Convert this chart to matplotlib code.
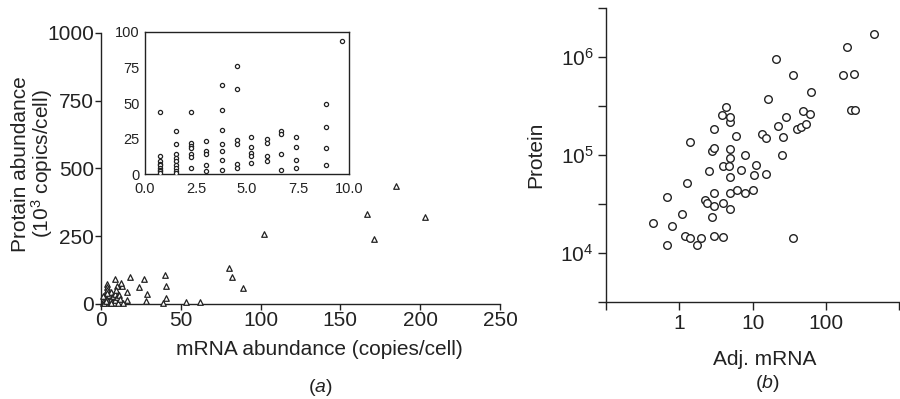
import numpy as np
import matplotlib
matplotlib.use("Agg")
import matplotlib.pyplot as plt
from matplotlib.ticker import FixedLocator, NullFormatter

plt.rcParams['font.family'] = ['Liberation Sans', 'DejaVu Sans']
plt.rcParams['mathtext.fontset'] = 'custom'
plt.rcParams['mathtext.rm'] = 'Liberation Sans'
plt.rcParams['mathtext.it'] = 'Liberation Sans:italic'
plt.rcParams['mathtext.default'] = 'regular'

INK = '#222222'

# (a) main panel: mRNA vs protein (triangles)
mrna_a = [185, 167, 203, 171, 102, 80, 82, 89, 40, 41, 41, 39, 53, 62,
          27, 29, 28, 24, 18, 16, 16, 13, 12.5, 13.6, 9, 10, 4, 3.5,
          1.5, 2, 2.5, 3, 3.5, 4, 4.5, 5, 5.5, 6, 6.5, 7, 7.5, 8, 8.5,
          9, 9.5, 10, 10.5, 11, 2, 3, 4, 6, 1, 12]
prot_a = [437, 332, 320, 239, 257, 134, 99, 58, 107, 65, 21, 3, 9, 9,
          94, 36, 10, 63, 98, 43, 15, 66, 76, 2, 94, 66, 74, 61,
          5, 15, 28, 40, 50, 22, 10, 35, 3, 18, 45, 8, 28, 2, 38,
          15, 50, 25, 5, 32, 2, 12, 42, 2, 30, 20]

# (a) inset: low-abundance region (circles)
inset_cols = [0.75, 1.5, 2.25, 2.97, 3.77, 4.49, 5.2, 5.96, 6.68, 7.4, 8.86, 9.67]
inset_vals = [
    [44, 13, 9, 7, 6, 4, 3, 2, 1],
    [30, 21, 14, 11, 9, 6, 4, 2, 1],
    [44, 22, 20, 18, 14, 12, 4],
    [23, 16, 14, 6, 2],
    [63, 45, 31, 21, 16, 10, 3],
    [76, 60, 24, 21, 7, 4],
    [26, 19, 15, 13, 8],
    [25, 22, 13, 9],
    [30, 28, 14, 3],
    [26, 19, 10, 4.5],
    [49, 33, 18, 6],
    [94],
]

# (b) log-log: adjusted mRNA vs protein
adj_mrna = [0.44, 0.69, 0.69, 0.79, 1.1, 1.2, 1.4, 1.29, 1.4, 1.72, 2.0, 2.24,
            2.36, 2.54, 2.82, 2.82, 2.97, 2.97, 2.97, 2.97, 2.97, 3.99, 3.9,
            4.0, 3.86, 4.29, 4.77, 4.92, 4.92, 4.92, 4.92, 4.92, 4.97, 4.97,
            5.95, 6.07, 6.88, 7.96, 7.96, 10.2, 10.3, 11.0, 15.1, 13.6, 15.1,
            16.2, 20.7, 22.0, 25.5, 26.3, 28.3, 35.2, 36.0, 39.9, 45.3, 48.4,
            53.3, 61, 61.6, 171, 192, 222, 240, 248, 448]
protein_b = [2.0e4, 1.2e4, 3.7e4, 1.9e4, 2.5e4, 1.5e4, 1.4e4, 5.2e4, 1.36e5,
             1.19e4, 1.41e4, 3.46e4, 3.2e4, 6.9e4, 2.3e4, 1.1e5, 1.18e5,
             4.1e4, 3.0e4, 1.5e4, 1.83e5, 1.44e4, 3.2e4, 7.8e4, 2.57e5,
             3.1e5, 7.8e4, 2.8e4, 4.1e4, 6.0e4, 9.3e4, 1.14e5, 2.18e5,
             2.43e5, 1.55e5, 4.4e4, 7.1e4, 4.1e4, 9.9e4, 4.4e4, 6.3e4,
             7.9e4, 6.4e4, 1.63e5, 1.49e5, 3.7e5, 9.6e5, 1.98e5, 1.0e5,
             1.53e5, 2.43e5, 6.5e5, 1.41e4, 1.86e5, 1.95e5, 2.84e5, 2.08e5,
             2.63e5, 4.45e5, 6.6e5, 1.28e6, 2.91e5, 6.7e5, 2.87e5, 1.73e6]

fig = plt.figure(figsize=(9, 3.99), dpi=100)

# ---- panel (a)
ax = fig.add_axes([0.1122, 0.2381, 0.4433, 0.6792])
ax.scatter(mrna_a, prot_a, marker='^', s=16, facecolors='white',
           edgecolors=INK, linewidths=0.9, zorder=3, clip_on=False)
ax.set_xlim(0, 250)
ax.set_ylim(0, 1000)
ax.set_xticks([0, 50, 100, 150, 200, 250])
ax.set_yticks([0, 250, 500, 750, 1000])
for s in ['top', 'right']:
    ax.spines[s].set_visible(False)
for s in ['left', 'bottom']:
    ax.spines[s].set_color(INK)
    ax.spines[s].set_linewidth(1.0)
ax.tick_params(length=4, width=1.0, color=INK, labelsize=15,
               labelcolor=INK, pad=1)
ax.set_xlabel('mRNA abundance (copies/cell)', fontsize=15, color=INK,
              labelpad=7)
ax.xaxis.label.set_x(0.547)
# y label drawn as figure text to keep its exact place
fig.text(33 / 900, 1 - 164 / 399, 'Protain abundance\n(10$^3$ copics/cell)',
         rotation=90, ha='center', va='center', fontsize=15, color=INK,
         linespacing=0.95)

ins = fig.add_axes([0.1611, 0.5639, 0.2267, 0.3559])
ix = []
iy = []
for xc, vals in zip(inset_cols, inset_vals):
    for v in vals:
        ix.append(xc)
        iy.append(v)
ins.scatter(ix, iy, marker='o', s=9, facecolors='white', edgecolors=INK,
            linewidths=0.9, zorder=3)
ins.set_xlim(0, 10)
ins.set_ylim(0, 100)
ins.set_xticks([0, 2.5, 5, 7.5, 10])
ins.set_xticklabels(['0.0', '2.5', '5.0', '7.5', '10.0'])
ins.set_yticks([0, 25, 50, 75, 100])
for s in ins.spines.values():
    s.set_color(INK)
    s.set_linewidth(1.0)
ins.tick_params(length=0, labelsize=10.5, labelcolor=INK)
ins.tick_params(axis='x', pad=6)
ins.tick_params(axis='y', pad=4)

fig.text(320 / 900, 1 - 387 / 399, '($\\mathit{a}$)', ha='center', va='center',
         fontsize=14, color=INK)

# ---- panel (b)
bx = fig.add_axes([0.6733, 0.2439, 0.3259, 0.7353])
bx.scatter(adj_mrna, protein_b, marker='o', s=30, facecolors='white',
           edgecolors=INK, linewidths=1.0, zorder=3)
bx.set_xscale('log')
bx.set_yscale('log')
bx.set_xlim(0.1, 1000)
bx.set_ylim(10 ** 3.5, 10 ** 6.5)
bx.xaxis.set_major_locator(FixedLocator([0.1, 1, 10, 100, 1000]))
bx.set_xticklabels(['', '1', '10', '100', ''])
bx.xaxis.set_minor_locator(FixedLocator([]))
bx.yaxis.set_major_locator(FixedLocator([1e4, 1e5, 1e6]))
bx.set_yticklabels(['10$^4$', '10$^5$', '10$^6$'])
bx.yaxis.set_minor_locator(FixedLocator([10 ** 3.5, 10 ** 4.5, 10 ** 5.5, 10 ** 6.5]))
bx.yaxis.set_minor_formatter(NullFormatter())
for s in ['top', 'right']:
    bx.spines[s].set_visible(False)
for s in ['left', 'bottom']:
    bx.spines[s].set_color(INK)
    bx.spines[s].set_linewidth(1.0)
bx.tick_params(which='both', length=6, width=1.0, color=INK, labelsize=15,
               labelcolor=INK, pad=3)
bx.set_xlabel('Adj. mRNA', fontsize=15, color=INK, labelpad=12)
bx.xaxis.label.set_x(0.542)
bx.set_ylabel('Protein', fontsize=15, color=INK, labelpad=11)

fig.text(767 / 900, 1 - 384 / 399, '($\\mathit{b}$)', ha='center', va='center',
         fontsize=14, color=INK)

fig.savefig('out.png', dpi=100)
